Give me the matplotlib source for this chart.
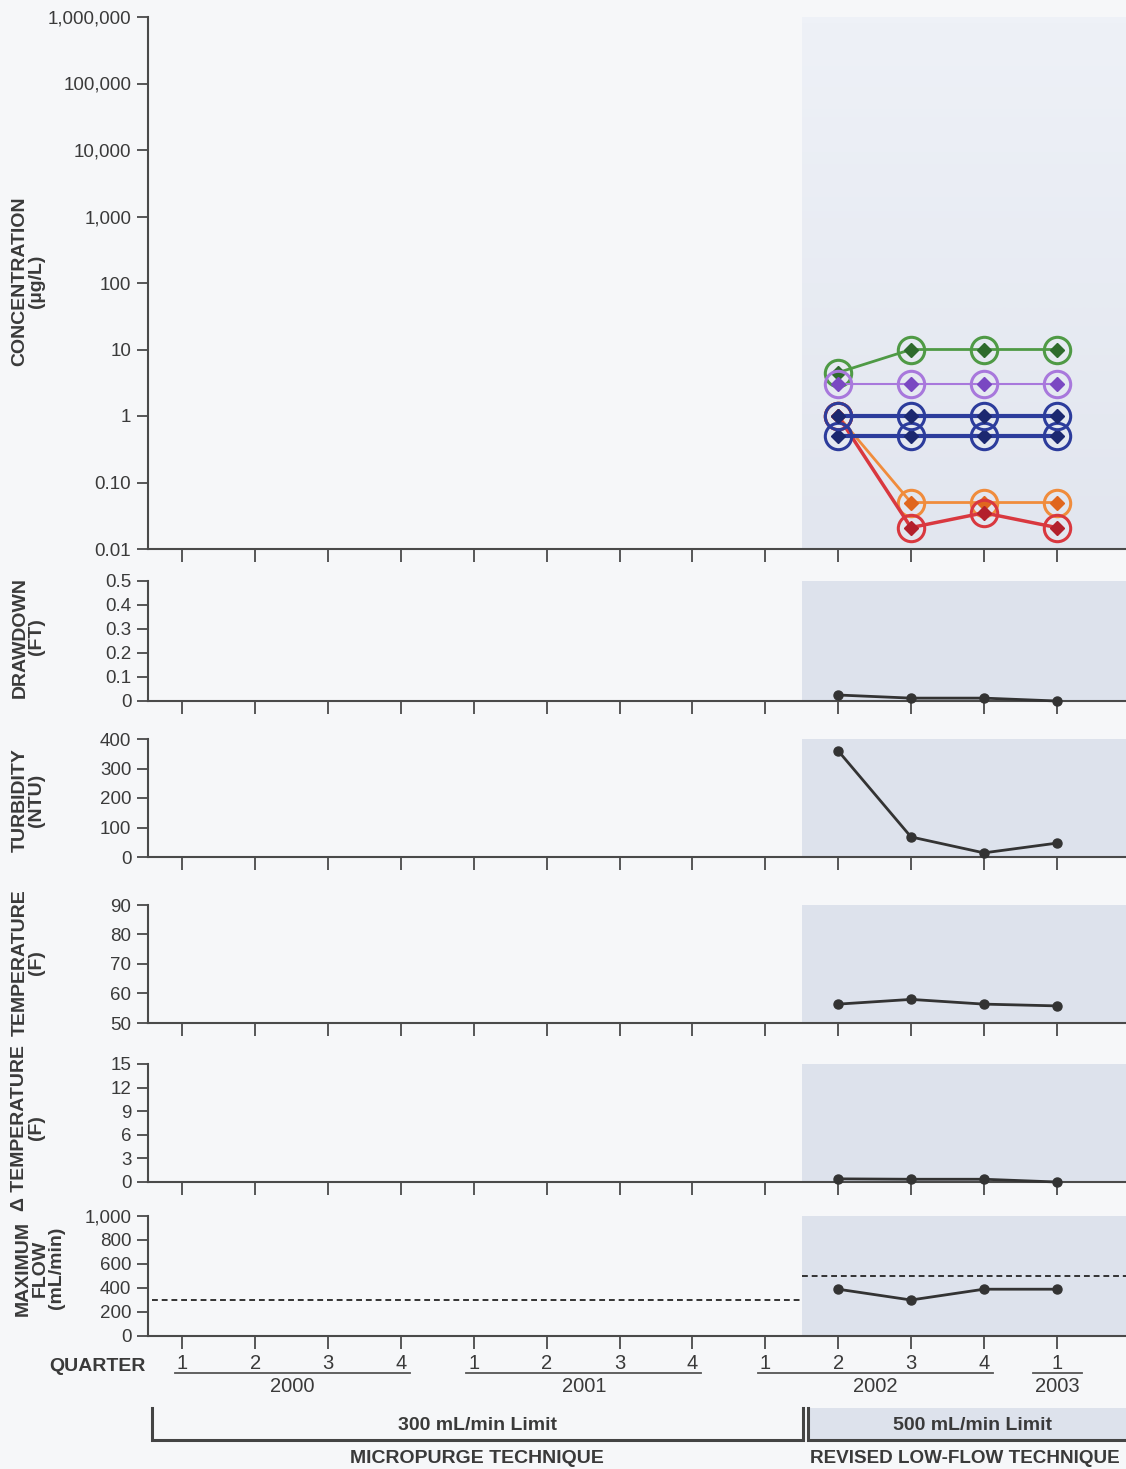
import numpy as np
import matplotlib.pyplot as plt
from matplotlib import font_manager
from matplotlib.colors import LinearSegmentedColormap
from matplotlib.ticker import FixedLocator, FixedFormatter

# fonts
names = {f.name for f in font_manager.fontManager.ttflist}
FONT = 'Liberation Sans' if 'Liberation Sans' in names else 'DejaVu Sans'
NARROW = 'Liberation Sans Narrow' if 'Liberation Sans Narrow' in names else FONT
plt.rcParams['font.family'] = [FONT, 'DejaVu Sans']

# quarters on the time axis
quarters = ['1', '2', '3', '4', '1', '2', '3', '4', '1', '2', '3', '4', '1']
years = ['2000', '2001', '2002', '2003']
year_quarters = [(0, 3), (4, 7), (8, 11), (12, 12)]
sample_x = [9, 10, 11, 12]          # 2002 Q2 .. 2003 Q1
revised_start = 8.5                 # switch to the revised low-flow technique

# concentration (ug/L), one list per analyte
conc_green = [4.5, 10, 10, 10]
conc_purple = [3, 3, 3, 3]
conc_blue_a = [1, 1, 1, 1]
conc_blue_b = [0.5, 0.5, 0.5, 0.5]
conc_orange = [1, 0.05, 0.05, 0.05]
conc_red = [1, 0.021, 0.035, 0.021]

drawdown = [0.025, 0.012, 0.012, 0.0]
turbidity = [360, 68, 14, 47]
temperature = [56.4, 58.0, 56.4, 55.8]
delta_temp = [0.4, 0.35, 0.35, 0.0]
max_flow = [390, 300, 390, 390]
flow_limit_old = 300
flow_limit_new = 500

BG = '#f6f7f9'
SHADE = '#dde2ec'
INK = '#3a3a3a'
W, H = 1126, 1469
XLIM = (-0.47, 12.95)
TICK_FS = 13.5
LABEL_FS = 14

fig = plt.figure(figsize=(W / 100, H / 100), dpi=100, facecolor=BG)


def make_axes(top_px, bot_px):
    ax = fig.add_axes([148 / W, 1 - bot_px / H, 1 - 148 / W, (bot_px - top_px) / H])
    ax.set_facecolor('none')
    for s in ['top', 'right']:
        ax.spines[s].set_visible(False)
    for s in ['left', 'bottom']:
        ax.spines[s].set_color('#4a4a4a')
        ax.spines[s].set_linewidth(1.5)
    ax.set_xticks(range(len(quarters)))
    ax.set_xticklabels([])
    ax.tick_params(axis='x', direction='out', length=9, width=1.3, color='#4a4a4a')
    ax.tick_params(axis='y', direction='out', length=8, width=1.3, color='#4a4a4a',
                   labelsize=TICK_FS, labelcolor=INK, pad=4)
    return ax


def ylabel(text, x_px, y_px):
    fig.text(x_px / W, 1 - y_px / H, text, rotation=90, ha='center', va='center',
             multialignment='center', fontsize=LABEL_FS, fontweight='bold', color=INK,
             linespacing=0.95)


# ---- concentration panel
ax = make_axes(17, 549)
# soft shading behind the revised-technique samples, lighter toward the top
x0 = (revised_start - XLIM[0]) / (XLIM[1] - XLIM[0])
fade = LinearSegmentedColormap.from_list('fade', ['#e2e6ef', '#eef1f7'])
ax.imshow(np.linspace(0, 1, 64).reshape(-1, 1)[::-1], cmap=fade, aspect='auto',
          extent=[x0, 1, 0, 1], transform=ax.transAxes, zorder=0, interpolation='bilinear')
ax.set_yscale('log')
ax.set_xlim(*XLIM)
ax.set_ylim(0.01, 1e6)
ticks = [0.01, 0.1, 1, 10, 100, 1e3, 1e4, 1e5, 1e6]
ax.yaxis.set_major_locator(FixedLocator(ticks))
ax.yaxis.set_major_formatter(FixedFormatter(['0.01', '0.10', '1', '10', '100', '1,000',
                                             '10,000', '100,000', '1,000,000']))
ax.yaxis.set_minor_locator(FixedLocator([]))

series = [
    (conc_orange, '#f08c3c', '#e0661e', 2.0),
    (conc_red, '#d9383f', '#b3202c', 2.5),
    (conc_green, '#4f9a45', '#2e6b2c', 2.0),
    (conc_purple, '#a878dc', '#7a48c2', 1.5),
    (conc_blue_b, '#2c3c9c', '#1c2870', 3.0),
    (conc_blue_a, '#2c3c9c', '#1c2870', 3.0),
]
for vals, col, dcol, lw in series:
    ax.plot(sample_x, vals, color=col, lw=lw, marker='D', ms=7, mfc=dcol, mec=dcol,
            zorder=3)
    ax.plot(sample_x, vals, ls='none', marker='o', ms=19, mfc='none', mec=col, mew=2.2,
            zorder=3)
ylabel('CONCENTRATION\n(\u00b5g/L)', 28, 281)


def small_panel(top_px, bot_px, vals, ylim, yticks, labels):
    ax = make_axes(top_px, bot_px)
    ax.set_xlim(*XLIM)
    ax.set_ylim(*ylim)
    ax.set_yticks(yticks)
    ax.set_yticklabels(labels)
    ax.axvspan(revised_start, XLIM[1], color=SHADE, zorder=0, lw=0)
    ax.plot(sample_x, vals, color='#333333', lw=2, marker='o', ms=6.5, zorder=3,
            clip_on=False)
    return ax


small_panel(581, 701, drawdown, (0, 0.5), [0, 0.1, 0.2, 0.3, 0.4, 0.5],
            ['0', '0.1', '0.2', '0.3', '0.4', '0.5'])
ylabel('DRAWDOWN\n(FT)', 28, 637)

small_panel(739, 857, turbidity, (0, 400), [0, 100, 200, 300, 400],
            ['0', '100', '200', '300', '400'])
ylabel('TURBIDITY\n(NTU)', 28, 800)

small_panel(905, 1023, temperature, (50, 90), [50, 60, 70, 80, 90],
            ['50', '60', '70', '80', '90'])
ylabel('TEMPERATURE\n(F)', 28, 963)

small_panel(1064, 1182, delta_temp, (0, 15), [0, 3, 6, 9, 12, 15],
            ['0', '3', '6', '9', '12', '15'])
ylabel('\u0394 TEMPERATURE\n(F)', 28, 1128)

ax = small_panel(1216, 1336, max_flow, (0, 1000), [0, 200, 400, 600, 800, 1000],
                 ['0', '200', '400', '600', '800', '1,000'])
ax.plot([XLIM[0] + 0.05, revised_start], [flow_limit_old] * 2, color='#333333', lw=1.4,
        ls=(0, (3, 2)), zorder=2)
ax.plot([revised_start, XLIM[1]], [flow_limit_new] * 2, color='#333333', lw=1.4,
        ls=(0, (3, 2)), zorder=2)
ylabel('MAXIMUM\nFLOW\n(mL/min)', 40, 1268)

# ---- footer: quarters, years and technique brackets (y in pixel rows)
ft = fig.add_axes([148 / W, 0, 1 - 148 / W, (H - 1340) / H])
ft.set_xlim(*XLIM)
ft.set_ylim(H, 1340)
ft.axis('off')

ft.text(-0.5, 1371, 'QUARTER', ha='right', va='baseline', fontsize=14,
        fontweight='bold', color=INK, family=NARROW)
for i, q in enumerate(quarters):
    ft.text(i, 1369, q, ha='center', va='baseline', fontsize=14.5, color=INK, family=NARROW)
for yr, (a, b) in zip(years, year_quarters):
    pad = 0.1 if b > a else 0.32
    ft.plot([a - pad, b + pad + 0.02], [1373, 1373], color='#555555', lw=1.3)
    ft.text((a + b) / 2 + 0.01, 1392, yr, ha='center', va='baseline', fontsize=14.5,
            color=INK, family=NARROW)

left_edge = -0.41
ft.fill_between([8.59, XLIM[1]], 1408, 1440, color=SHADE, lw=0)
ft.plot([left_edge, left_edge, 8.52, 8.52], [1408, 1440, 1440, 1408], color='#444444',
        lw=2.2, solid_joinstyle='miter')
ft.plot([8.59, 8.59, XLIM[1]], [1408, 1440, 1440], color='#444444', lw=2.2,
        solid_joinstyle='miter', clip_on=False)
ft.text(4.05, 1430, '300 mL/min Limit', ha='center', va='baseline', fontsize=14,
        fontweight='bold', color=INK, family=NARROW)
ft.text(10.84, 1430, '500 mL/min Limit', ha='center', va='baseline', fontsize=14,
        fontweight='bold', color=INK, family=NARROW)
ft.text(4.05, 1463, 'MICROPURGE TECHNIQUE', ha='center', va='baseline', fontsize=14,
        fontweight='bold', color=INK, family=NARROW)
ft.text(8.62, 1463, 'REVISED LOW-FLOW TECHNIQUE', ha='left', va='baseline', fontsize=13.6,
        fontweight='bold', color=INK, family=NARROW)

fig.savefig('out.png', dpi=100, facecolor=BG)
